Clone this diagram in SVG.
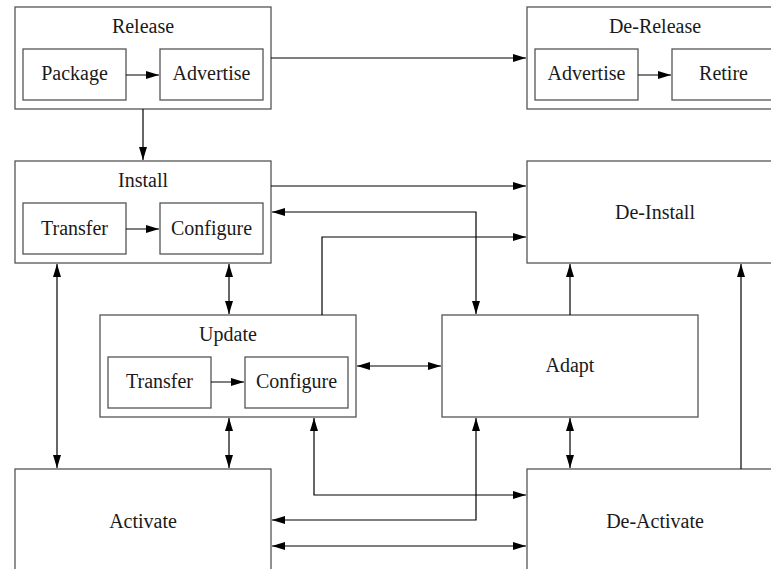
<svg xmlns="http://www.w3.org/2000/svg" width="771" height="569" viewBox="0 0 771 569" font-family="Liberation Serif, DejaVu Serif, serif">
<style>
.box{fill:#fff;stroke:#555;stroke-width:1.3}
text{font-size:20px;fill:#1a1a1a;text-anchor:middle}
.c{fill:none;stroke:#000;stroke-width:1.2}
</style>
<defs>
<marker id="a" markerUnits="userSpaceOnUse" markerWidth="14" markerHeight="10" refX="13" refY="4" orient="auto-start-reverse">
<path d="M0,0 L13,4 L0,8 z" fill="#000"/>
</marker>
</defs>
<rect width="771" height="569" fill="#fff"/>
<g id="release">
<rect class="box" x="15" y="7" width="256" height="102"/>
<text x="143" y="33">Release</text>
<rect class="box" x="23" y="49" width="103" height="51"/>
<text x="74.5" y="80">Package</text>
<rect class="box" x="160" y="49" width="103" height="51"/>
<text x="211.5" y="80">Advertise</text>
</g>
<g id="derelease">
<rect class="box" x="527" y="7" width="256" height="102"/>
<text x="655" y="33">De-Release</text>
<rect class="box" x="535" y="49" width="103" height="51"/>
<text x="586.5" y="80">Advertise</text>
<rect class="box" x="672" y="49" width="103" height="51"/>
<text x="723.5" y="80">Retire</text>
</g>
<g id="install">
<rect class="box" x="15" y="161" width="256" height="102"/>
<text x="143" y="187">Install</text>
<rect class="box" x="23" y="203" width="103" height="51"/>
<text x="74.5" y="235">Transfer</text>
<rect class="box" x="160" y="203" width="103" height="51"/>
<text x="211.5" y="235">Configure</text>
</g>
<g id="deinstall">
<rect class="box" x="527" y="161" width="256" height="102"/>
<text x="655" y="219">De-Install</text>
</g>
<g id="update">
<rect class="box" x="100" y="315" width="256" height="102"/>
<text x="228" y="341">Update</text>
<rect class="box" x="108" y="357" width="103" height="51"/>
<text x="159.5" y="388">Transfer</text>
<rect class="box" x="245" y="357" width="103" height="51"/>
<text x="296.5" y="388">Configure</text>
</g>
<g id="adapt">
<rect class="box" x="442" y="315" width="256" height="102"/>
<text x="570" y="372">Adapt</text>
</g>
<g id="activate">
<rect class="box" x="15" y="469" width="256" height="102"/>
<text x="143" y="528">Activate</text>
</g>
<g id="deactivate">
<rect class="box" x="527" y="469" width="256" height="102"/>
<text x="655" y="528">De-Activate</text>
</g>
<g id="connectors">
<path class="c" d="M126,75 H159" marker-end="url(#a)"/>
<path class="c" d="M638,75 H671" marker-end="url(#a)"/>
<path class="c" d="M126,229 H159" marker-end="url(#a)"/>
<path class="c" d="M211,382 H244" marker-end="url(#a)"/>
<path class="c" d="M271,58 H526" marker-end="url(#a)"/>
<path class="c" d="M143,109 V160" marker-end="url(#a)"/>
<path class="c" d="M271,186 H526" marker-end="url(#a)"/>
<path class="c" d="M272,212 H476 V314" marker-start="url(#a)" marker-end="url(#a)"/>
<path class="c" d="M322,315 V237 H526" marker-end="url(#a)"/>
<path class="c" d="M57,264 V468" marker-start="url(#a)" marker-end="url(#a)"/>
<path class="c" d="M229,264 V314" marker-start="url(#a)" marker-end="url(#a)"/>
<path class="c" d="M229,418 V468" marker-start="url(#a)" marker-end="url(#a)"/>
<path class="c" d="M357,366 H441" marker-start="url(#a)" marker-end="url(#a)"/>
<path class="c" d="M570,315 V264" marker-end="url(#a)"/>
<path class="c" d="M741,469 V264" marker-end="url(#a)"/>
<path class="c" d="M570,418 V468" marker-start="url(#a)" marker-end="url(#a)"/>
<path class="c" d="M314,418 V495 H526" marker-start="url(#a)" marker-end="url(#a)"/>
<path class="c" d="M272,520 H476 V418" marker-start="url(#a)" marker-end="url(#a)"/>
<path class="c" d="M272,546 H526" marker-start="url(#a)" marker-end="url(#a)"/>
</g>
</svg>
